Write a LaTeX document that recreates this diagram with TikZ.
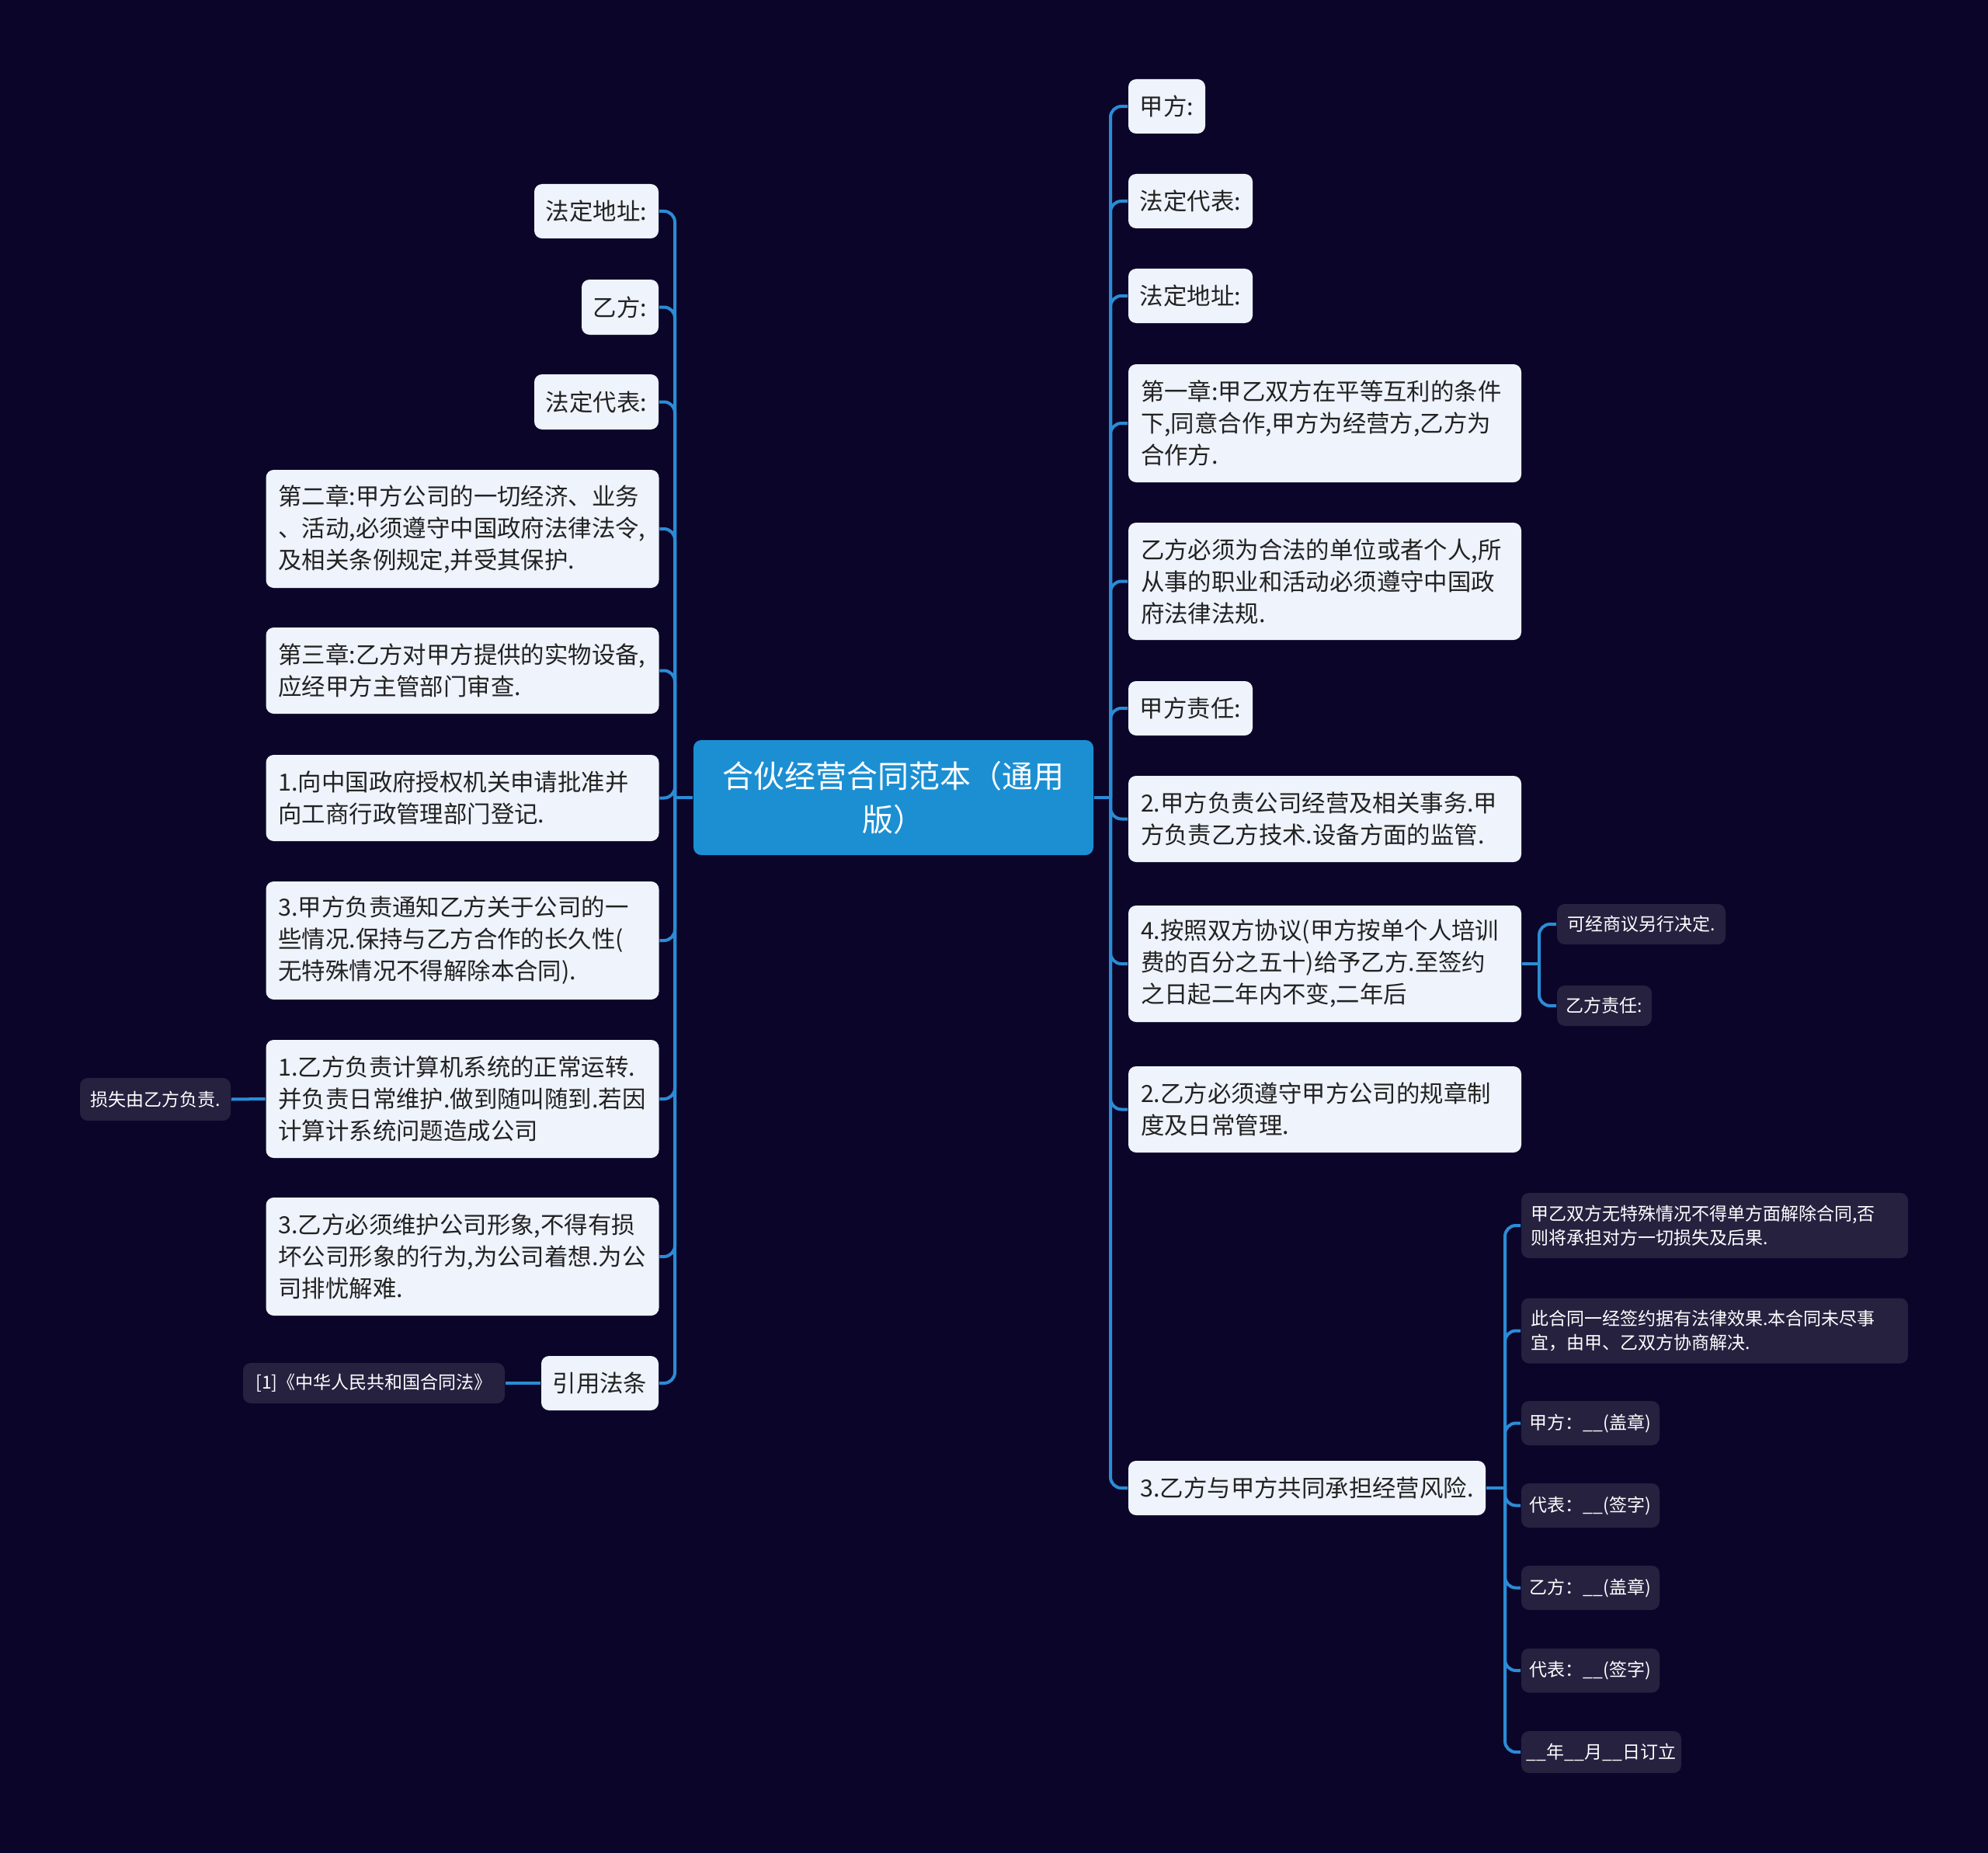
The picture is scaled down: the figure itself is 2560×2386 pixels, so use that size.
\documentclass[tikz,border=0pt]{standalone}
\usepackage{fontspec}
\setmainfont{Noto Sans CJK SC}
\definecolor{bgc}{HTML}{0B0629}
\definecolor{lightfill}{HTML}{EEF3FC}
\definecolor{textdark}{HTML}{222222}
\definecolor{darkfill}{HTML}{25213F}
\definecolor{connblue}{HTML}{2B8CD6}
\definecolor{rootfill}{HTML}{1C8FD3}
\tikzset{
  lt/.style={fill=lightfill, text=textdark, rounded corners=2.5pt, inner xsep=4pt, inner ysep=0pt, font=\fontsize{7.6pt}{10.25pt}\selectfont},
  lts/.style={lt, inner xsep=1.5pt},
  ltw/.style={lt, text width=118.5pt, align=left},
  dk/.style={fill=darkfill, text=white, rounded corners=2.5pt, inner xsep=3pt, inner ysep=0pt, font=\fontsize{5.75pt}{7.75pt}\selectfont},
  dks/.style={dk, inner xsep=1pt},
  dkw/.style={dk, text width=118.5pt, align=left},
  conn/.style={draw=connblue, line width=1pt, rounded corners=3.5pt},
  rootbox/.style={fill=rootfill, text=white, rounded corners=2.5pt, inner sep=0pt, align=center, font=\fontsize{10pt}{14pt}\selectfont},
}
\begin{document}
\begin{tikzpicture}[x=0.25pt, y=-0.25pt]
\fill[bgc] (0,0) rectangle (2560,2386);
\useasboundingbox (0,0) rectangle (2560,2386);

% root
\node[rootbox, minimum width=128.75pt, minimum height=37pt] (root) at (1150.5,1027) {合伙经营合同范本（通用\\版）};

% right side
\node[lts, minimum width=24.75pt, minimum height=17.5pt] (R1) at (1502.5,137) {甲方:};
\node[lts, minimum width=40pt, minimum height=17.5pt] (R2) at (1533,259) {法定代表:};
\node[lts, minimum width=40pt, minimum height=17.5pt] (R3) at (1533,381) {法定地址:};
\node[ltw, minimum height=38pt] (R4) at (1706,545) {第一章:甲乙双方在平等互利的条件\\下,同意合作,甲方为经营方,乙方为\\合作方.};
\node[ltw, minimum height=37.75pt] (R5) at (1706,748.5) {乙方必须为合法的单位或者个人,所\\从事的职业和活动必须遵守中国政\\府法律法规.};
\node[lts, minimum width=40pt, minimum height=17.5pt] (R6) at (1533,912) {甲方责任:};
\node[ltw, minimum height=27.75pt] (R7) at (1706,1054.5) {2.甲方负责公司经营及相关事务.甲\\方负责乙方技术.设备方面的监管.};
\node[ltw, minimum height=37.5pt] (R8) at (1706,1241) {4.按照双方协议(甲方按单个人培训\\费的百分之五十)给予乙方.至签约\\之日起二年内不变,二年后};
\node[ltw, minimum height=27.75pt] (R9) at (1706,1428.5) {2.乙方必须遵守甲方公司的规章制\\度及日常管理.};
\node[lts, minimum width=115pt, minimum height=17.5pt] (R10) at (1683,1916) {3.乙方与甲方共同承担经营风险.};

% children of R8
\node[dks, minimum width=54.25pt, minimum height=13pt] (C1) at (2113.5,1190) {可经商议另行决定.};
\node[dks, minimum width=30.5pt, minimum height=13pt] (C2) at (2066,1295) {乙方责任:};

% children of R10
\node[dkw, minimum height=21pt] (D1) at (2208,1578) {甲乙双方无特殊情况不得单方面解除合同,否\\则将承担对方一切损失及后果.};
\node[dkw, minimum height=21pt] (D2) at (2208,1713.5) {此合同一经签约据有法律效果.本合同未尽事\\宜，由甲、乙双方协商解决.};
\node[dks, minimum width=44.5pt, minimum height=14.25pt] (D3) at (2048,1832.5) {甲方：\_\_(盖章)};
\node[dks, minimum width=44.5pt, minimum height=14.25pt] (D4) at (2048,1938.5) {代表：\_\_(签字)};
\node[dks, minimum width=44.5pt, minimum height=14.25pt] (D5) at (2048,2044.5) {乙方：\_\_(盖章)};
\node[dks, minimum width=44.5pt, minimum height=14.25pt] (D6) at (2048,2151) {代表：\_\_(签字)};
\node[dks, minimum width=51.5pt, minimum height=13.5pt] (D7) at (2062,2256) {\_\_年\_\_月\_\_日订立};

% left side
\node[lts, minimum width=40pt, minimum height=17.5pt] (L1) at (768,272) {法定地址:};
\node[lts, minimum width=24.75pt, minimum height=17.75pt] (L2) at (798.5,395.5) {乙方:};
\node[lts, minimum width=40pt, minimum height=17.75pt] (L3) at (768,517.5) {法定代表:};
\node[ltw, minimum height=38pt] (L4) at (595.5,681) {第二章:甲方公司的一切经济、业务\\、活动,必须遵守中国政府法律法令,\\及相关条例规定,并受其保护.};
\node[ltw, minimum height=27.75pt] (L5) at (595.5,863.5) {第三章:乙方对甲方提供的实物设备,\\应经甲方主管部门审查.};
\node[ltw, minimum height=27.75pt] (L6) at (595.5,1027.5) {1.向中国政府授权机关申请批准并\\向工商行政管理部门登记.};
\node[ltw, minimum height=38pt] (L7) at (595.5,1211) {3.甲方负责通知乙方关于公司的一\\些情况.保持与乙方合作的长久性(\\无特殊情况不得解除本合同).};
\node[ltw, minimum height=38pt] (L8) at (595.5,1415) {1.乙方负责计算机系统的正常运转.\\并负责日常维护.做到随叫随到.若因\\计算计系统问题造成公司};
\node[ltw, minimum height=38pt] (L9) at (595.5,1618) {3.乙方必须维护公司形象,不得有损\\坏公司形象的行为,为公司着想.为公\\司排忧解难.};
\node[lts, minimum width=37.75pt, minimum height=17.5pt] (L10) at (772.5,1781) {引用法条};
\node[dks, minimum width=48.5pt, minimum height=13.75pt] (E1) at (200,1415.5) {损失由乙方负责.};
\node[dks, minimum width=84.25pt, minimum height=13pt] (E2) at (481.5,1781) {[1]《中华人民共和国合同法》};

% connectors
\coordinate (rj) at (1430,1027);
\coordinate (lj) at (869,1027);
\draw[conn] (root.east) -- (rj);
\draw[conn] (root.west) -- (lj);
\foreach \n in {R1,R2,R3,R4,R5,R6,R7,R8,R9,R10} \draw[conn] (rj) |- (\n.west);
\foreach \n in {L1,L2,L3,L4,L5,L6,L7,L8,L9,L10} \draw[conn] (lj) |- (\n.east);

\coordinate (r8j) at (1982,1241);
\draw[conn] (R8.east) -- (r8j);
\foreach \n in {C1,C2} \draw[conn] (r8j) |- (\n.west);

\coordinate (r10j) at (1938,1916);
\draw[conn] (R10.east) -- (r10j);
\foreach \n in {D1,D2,D3,D4,D5,D6,D7} \draw[conn] (r10j) |- (\n.west);

\draw[conn] (L8.west) -- (E1.east);
\draw[conn] (L10.west) -- (E2.east);
\end{tikzpicture}
\end{document}
